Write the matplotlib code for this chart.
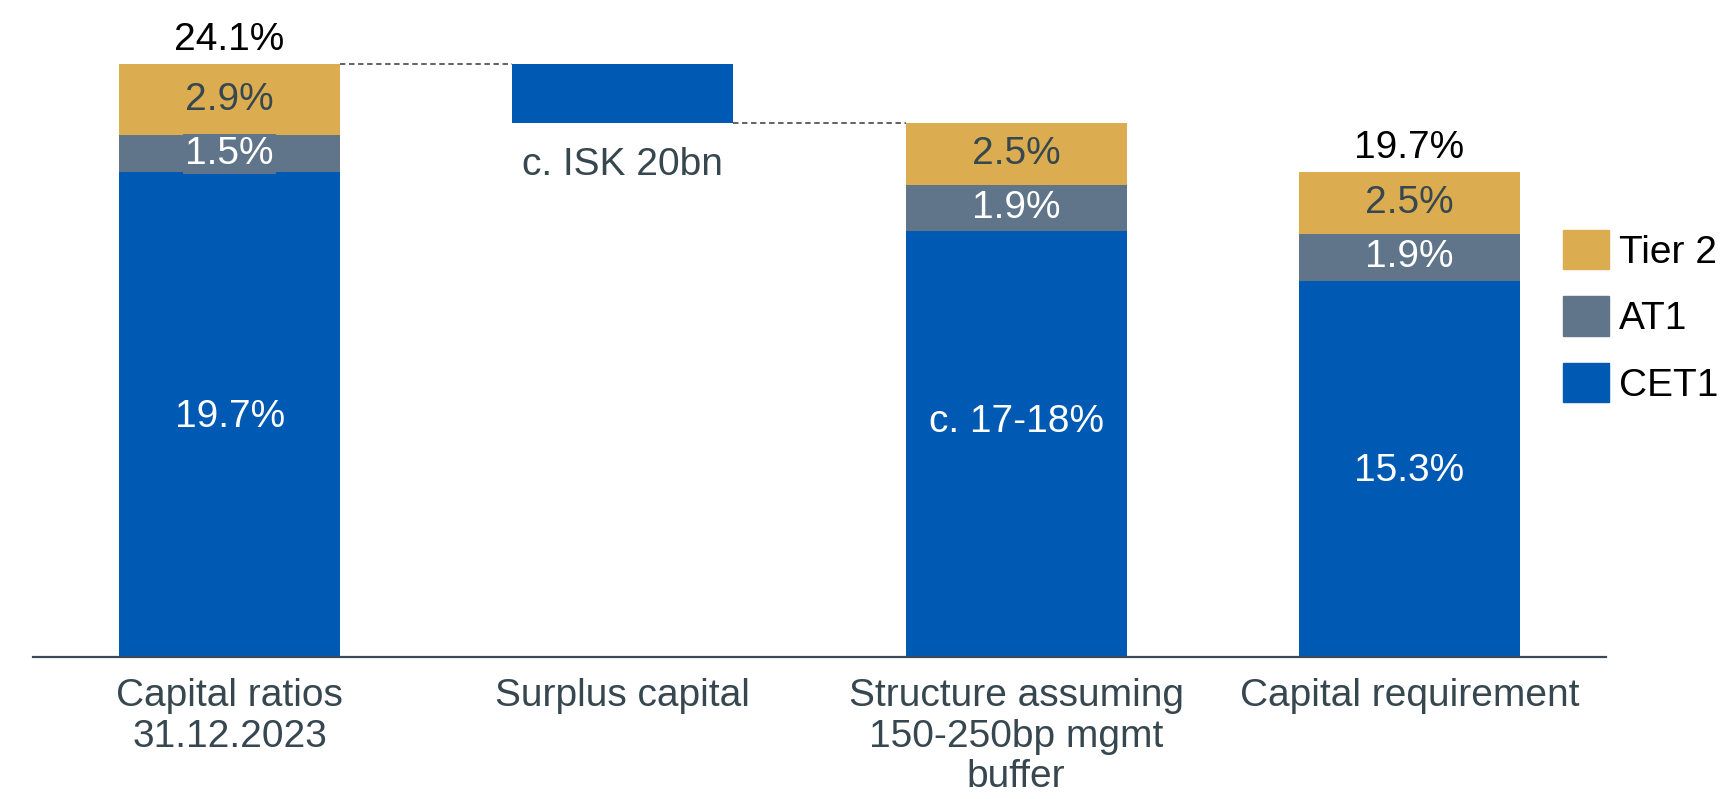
import numpy as np
import matplotlib.pyplot as plt
from matplotlib.patches import Patch

plt.rcParams['font.family'] = ['Liberation Sans', 'DejaVu Sans']

# categorie e composizione del capitale (%)
categories = ["Capital ratios\n31.12.2023", "Surplus capital",
              "Structure assuming\n150-250bp mgmt\nbuffer", "Capital requirement"]
stack_pos = np.array([0, 2, 3])
cet1 = np.array([19.7, 17.3, 15.3])
at1 = np.array([1.5, 1.9, 1.9])
tier2 = np.array([2.9, 2.5, 2.5])
cet1_labels = ["19.7%", "c. 17-18%", "15.3%"]
total_shown = [True, False, True]
surplus_label = "c. ISK 20bn"

c_tier2 = '#DBAD50'
c_at1 = '#607589'
c_cet1 = '#005AB4'
c_text = '#37474F'

fig = plt.figure(figsize=(17.22, 7.99), dpi=100)
ax = fig.add_axes([33/1722, 142/799, (1606-33)/1722, 657/799])

w = 0.5624
totals = cet1 + at1 + tier2
ax.bar(stack_pos, cet1, w, color=c_cet1)
ax.bar(stack_pos, at1, w, bottom=cet1, color=c_at1)
ax.bar(stack_pos, tier2, w, bottom=cet1 + at1, color=c_tier2)

# barra flottante del surplus
surplus = totals[0] - totals[1]
ax.bar(1, surplus, w, bottom=totals[1], color=c_cet1)

# linee tratteggiate di collegamento
ax.plot([w/2, 1 - w/2], [totals[0]]*2, ls=(0, (3, 2)), color='#555555', lw=1.3)
ax.plot([1 + w/2, 2 - w/2], [totals[1]]*2, ls=(0, (3, 2)), color='#555555', lw=1.3)

fs = 28
for i, x in enumerate(stack_pos):
    yc = cet1[i] / 2
    if i == 1:
        yc = cet1[i] / 2 + 1.0
    ax.text(x, yc - 0.1, cet1_labels[i], ha='center', va='center', color='white', fontsize=fs)
    ax.text(x, cet1[i] + at1[i]/2, f"{at1[i]:.1f}%", ha='center', va='center',
            color='white', fontsize=fs,
            bbox=dict(boxstyle='square,pad=0.05', fc=c_at1, ec='none'))
    ax.text(x, cet1[i] + at1[i] + tier2[i]/2, f"{tier2[i]:.1f}%", ha='center',
            va='center', color=c_text, fontsize=fs)
    if total_shown[i]:
        ax.annotate(f"{totals[i]:.1f}%", (x, totals[i]), xytext=(0, 17.5),
                    textcoords='offset points', ha='center', va='center',
                    color='black', fontsize=fs)

ax.annotate(surplus_label, (1, totals[1]), xytext=(0, -30),
            textcoords='offset points', ha='center', va='center',
            color=c_text, fontsize=fs)

ax.set_xlim(-0.5, 3.5)
ax.set_ylim(0, 26.7)
ax.set_xticks(range(4))
ax.set_xticklabels(categories, fontsize=fs, color=c_text, linespacing=1.17, va='top')
ax.tick_params(axis='x', length=0, pad=15)
ax.set_yticks([])
for s in ['top', 'right', 'left']:
    ax.spines[s].set_visible(False)
ax.spines['bottom'].set_color('#3D4A55')
ax.spines['bottom'].set_linewidth(1.6)

handles = [Patch(color=c_tier2), Patch(color=c_at1), Patch(color=c_cet1)]
fig.legend(handles, ["Tier 2", "AT1", "CET1"], loc='upper left',
           bbox_to_anchor=(1563/1722, 1 - 230/799), frameon=False, fontsize=fs,
           handlelength=1.18, handleheight=1.18, labelspacing=0.66,
           handletextpad=0.25, borderpad=0, borderaxespad=0)

fig.savefig('out.png', dpi=100)
